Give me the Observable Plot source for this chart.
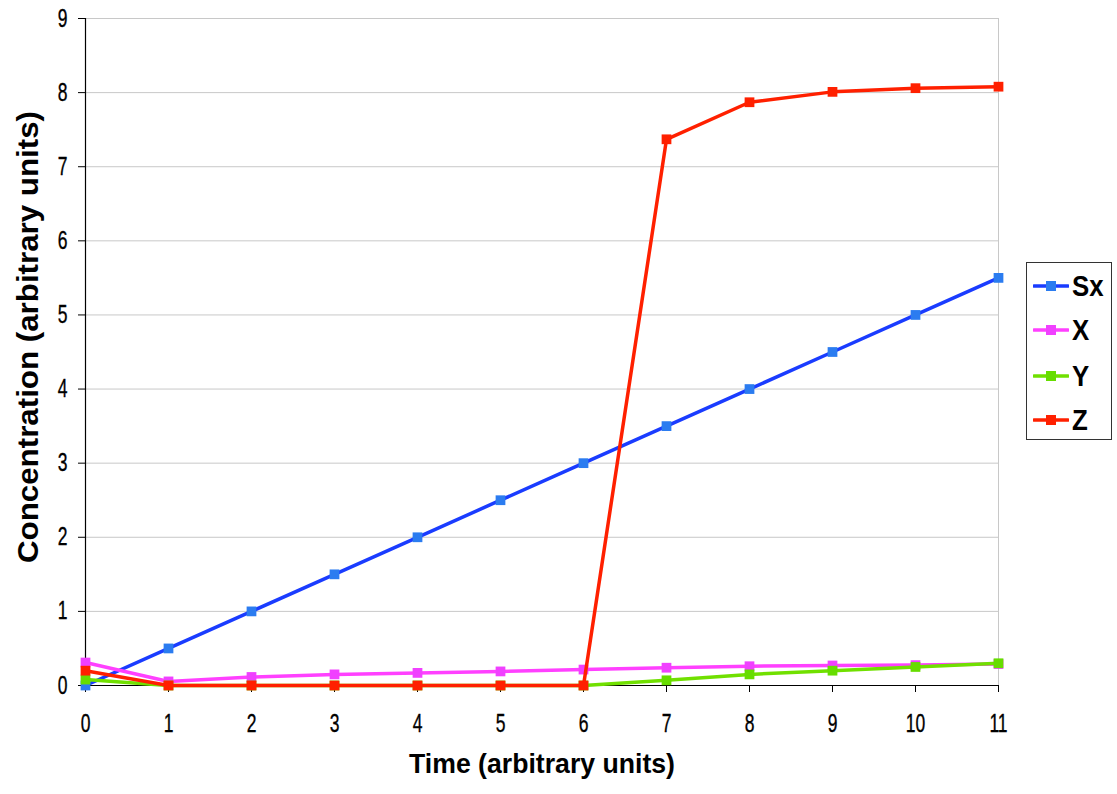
<!DOCTYPE html>
<html><head><meta charset="utf-8">
<script src="https://cdn.jsdelivr.net/npm/d3@7"></script>
<script src="https://cdn.jsdelivr.net/npm/@observablehq/plot@0.6"></script>
<style>
body{margin:0;background:#fff;}
#wrap{position:relative;width:1117px;height:794px;overflow:hidden;}
#legend{position:absolute;left:1026px;top:262px;width:84px;height:176px;border:1.5px solid #333;background:#fff;
  font-family:'Liberation Sans',Arial,sans-serif;font-weight:bold;font-size:30px;}
.item{position:absolute;left:6px;display:flex;align-items:center;height:36px;white-space:nowrap;}
.item svg{margin-right:3px;}
.item span{display:inline-block;transform:scaleX(0.86);transform-origin:left center;}
</style></head><body><div id="wrap"><div id="legend"></div></div>
<script>
const times = [0,1,2,3,4,5,6,7,8,9,10,11];
const sx = [0,0.5,1,1.5,2,2.5,3,3.5,4,4.5,5,5.5];
const xs = [0.31,0.055,0.115,0.15,0.17,0.19,0.215,0.24,0.26,0.27,0.275,0.29];
const ys = [0.08,0,0,0,0,0,0,0.07,0.15,0.2,0.25,0.3];
const zs = [0.2,0,0,0,0,0,0,7.37,7.87,8.01,8.06,8.08];
const seriesNames = ["Sx","X","Y","Z"];
const lineColors = ["#1a3cff","#ff40ff","#70e000","#ff2000"];
const markerColors = ["#2b7cf0","#f040ff","#66dd00","#ff2000"];
const yTicks = [0,1,2,3,4,5,6,7,8,9];
const xTitle = "Time (arbitrary units)";
const yTitle = "Concentration (arbitrary units)";

const valuesBySeries = [sx, xs, ys, zs];
const rows = [];
seriesNames.forEach((s, i) => times.forEach((t, j) => rows.push({series: s, time: t, value: valuesBySeries[i][j]})));

const font = "'Liberation Sans',Arial,sans-serif";
const seriesMarks = seriesNames.flatMap((s, i) => {
  const d = rows.filter(r => r.series === s);
  return [
    Plot.line(d, {x: "time", y: "value", stroke: lineColors[i], strokeWidth: 3.5}),
    Plot.dot(d, {x: "time", y: "value", symbol: "square", r: 5.5, fill: markerColors[i], stroke: "none"})
  ];
});

const chart = Plot.plot({
  width: 1117, height: 794,
  marginLeft: 85, marginRight: 119, marginTop: 18, marginBottom: 109,
  style: {fontFamily: font, fontSize: "25px", background: "#fff", color: "#000"},
  x: {domain: [0, 11]},
  y: {domain: [0, 9]},
  marks: [
    Plot.ruleY(yTicks.slice(1), {stroke: "#c8c8c8", strokeWidth: 1}),
    Plot.ruleX([11], {stroke: "#c8c8c8", strokeWidth: 1}),
    Plot.ruleX([0], {stroke: "#000", strokeWidth: 1.2}),
    Plot.ruleY([0], {stroke: "#000", strokeWidth: 1.2}),
    Plot.axisY({ticks: yTicks, tickSize: 7, tickPadding: 11, label: null, stroke: "#000", fontSize: 25, className: "tk"}),
    Plot.axisX({ticks: times, tickSize: 7, tickPadding: 22, label: null, stroke: "#000", fontSize: 25, className: "tk"}),
    Plot.text([yTitle], {frameAnchor: "left", textAnchor: "middle", rotate: -90, dx: -57, dy: -15, fontSize: 30, fontWeight: "bold", className: "ytitle"}),
    Plot.text([xTitle], {frameAnchor: "bottom", dy: 87, fontSize: 28, fontWeight: "bold", className: "xtitle"}),
    ...seriesMarks
  ]
});
document.getElementById("wrap").prepend(chart);

// tick labels: explicit size, then condense horizontally (reference uses a narrow face)
chart.querySelectorAll(".tk text").forEach(el => {
  el.style.fontSize = "25px";
  el.style.stroke = "#000";
  el.style.strokeWidth = "0.35px";
});
function squeeze(sel, fn) {
  chart.querySelectorAll(sel).forEach(el => {
    const len = el.getComputedTextLength();
    el.setAttribute("textLength", fn(len));
    el.setAttribute("lengthAdjust", "spacingAndGlyphs");
  });
}
squeeze(".tk text", len => len * 0.7);
squeeze(".xtitle text", () => 266);
squeeze(".ytitle text", () => 452);

const legend = document.getElementById("legend");
const itemTops = [5, 49, 95, 139];
seriesNames.forEach((s, i) => {
  const div = document.createElement("div");
  div.className = "item";
  div.style.top = itemTops[i] + "px";
  div.innerHTML = `<svg width="36" height="12"><line x1="1" y1="6" x2="35" y2="6" stroke="${lineColors[i]}" stroke-width="3.5" stroke-linecap="round"/><rect x="13" y="1" width="10" height="10" fill="${markerColors[i]}"/></svg><span>${s}</span>`;
  legend.appendChild(div);
});
</script>
</body></html>
